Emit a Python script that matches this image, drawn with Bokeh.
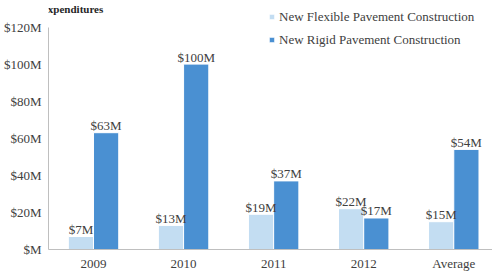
from bokeh.plotting import figure
from bokeh.models import (Range1d, LinearAxis, FixedTicker, Label, Legend, LegendItem)
from bokeh.core.properties import value
from bokeh.embed import file_html
from bokeh.resources import INLINE

# Expenditures by year, in millions of dollars
categories = ["2009", "2010", "2011", "2012", "Average"]
flexible = [7, 13, 19, 22, 15]
rigid = [63, 100, 37, 17, 54]
y_ticks = [0, 20, 40, 60, 80, 100, 120]
y_tick_labels = ["$M", "$20M", "$40M", "$60M", "$80M", "$100M", "$120M"]
series_names = ["New Flexible Pavement Construction", "New Rigid Pavement Construction"]

FONT = "Liberation Serif"
TEXT_COLOR = "#404040"
AXIS_COLOR = "#bfbfbf"
FLEX_COLOR = "#c3ddf2"
RIGID_COLOR = "#4a90d2"

xs = list(range(len(categories)))
half = 0.14

p = figure(width=492, height=273, output_backend="svg", toolbar_location=None,
           x_range=Range1d(-0.5, 4.43), y_range=Range1d(0, 134.3),
           x_axis_type=None, y_axis_type=None,
           min_border_left=45, min_border_right=0, min_border_top=0, min_border_bottom=23)
p.outline_line_color = None
p.xgrid.visible = False
p.ygrid.visible = False
p.background_fill_color = "white"
p.border_fill_color = "white"

flex_x = [x - half for x in xs]
rigid_x = [x + half for x in xs]

r_flex = p.vbar(x=flex_x, top=flexible, width=2 * half, fill_color=FLEX_COLOR,
                line_color="white", line_width=1)
r_rigid = p.vbar(x=rigid_x, top=rigid, width=2 * half, fill_color=RIGID_COLOR,
                 line_color="white", line_width=1)

# value labels above each bar
for bx, vals in ((flex_x, flexible), (rigid_x, rigid)):
    p.text(x=bx, y=vals, text=[f"${v}M" for v in vals],
           text_align="center", text_baseline="alphabetic", y_offset=-7,
           text_font=value(FONT), text_font_size="13px", text_color=TEXT_COLOR)

# axes
xaxis = LinearAxis(ticker=FixedTicker(ticks=xs),
                   major_label_overrides={x: c for x, c in zip(xs, categories)})
yaxis = LinearAxis(ticker=FixedTicker(ticks=y_ticks),
                   major_label_overrides={t: l for t, l in zip(y_ticks, y_tick_labels)},
                   bounds=(y_ticks[0], y_ticks[-1]))
for ax in (xaxis, yaxis):
    ax.axis_line_color = AXIS_COLOR
    ax.axis_line_width = 1
    ax.major_tick_line_color = None
    ax.minor_tick_line_color = None
    ax.major_tick_out = 0
    ax.major_tick_in = 0
    ax.major_label_text_font = FONT
    ax.major_label_text_font_size = "13px"
    ax.major_label_text_color = TEXT_COLOR
xaxis.major_label_standoff = 6
yaxis.major_label_standoff = 7
p.add_layout(xaxis, "below")
p.add_layout(yaxis, "left")

legend = Legend(items=[LegendItem(label=series_names[0], renderers=[r_flex]),
                       LegendItem(label=series_names[1], renderers=[r_rigid])],
                location=(220, 201.5), orientation="vertical",
                glyph_width=7, glyph_height=7, label_height=13, label_standoff=4,
                spacing=7, padding=0, margin=0,
                border_line_alpha=0, background_fill_alpha=0,
                label_text_font=FONT, label_text_font_size="13px",
                label_text_color=TEXT_COLOR)
p.add_layout(legend, "center")

# chart heading at the top left corner, running slightly off the edge
title = Label(x=-8, y=241, x_units="screen", y_units="screen", text="Expenditures",
              text_align="left", text_font=FONT, text_font_size="11px",
              text_font_style="bold", text_color="#262626", text_baseline="alphabetic")
p.add_layout(title)

open("out.html", "w").write(file_html(p, INLINE))
